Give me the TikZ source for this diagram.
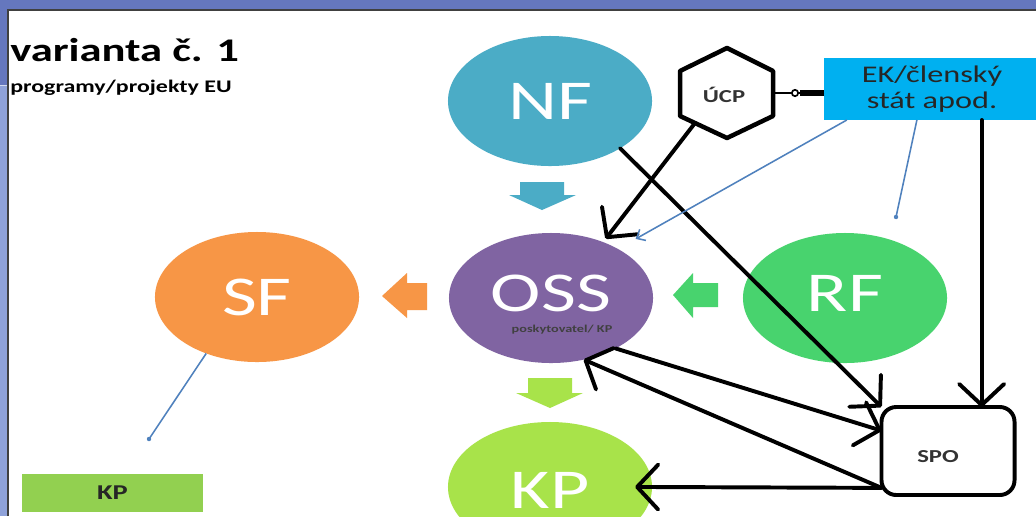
\documentclass[tikz,border=0pt]{standalone}
\usepackage{fontspec}
\setmainfont[FakeStretch=1.35]{Carlito}
\usetikzlibrary{shapes.geometric,arrows.meta}

\definecolor{slideblue}{HTML}{6577BE}
\definecolor{slidepale}{HTML}{8FA2D9}
\definecolor{nfteal}{HTML}{4BACC6}
\definecolor{osspurple}{HTML}{8064A2}
\definecolor{sforange}{HTML}{F79646}
\definecolor{rfgreen}{HTML}{48D36E}
\definecolor{kplime}{HTML}{A8E34A}
\definecolor{ekcyan}{HTML}{00B0F0}
\definecolor{kpgreen}{HTML}{92D050}
\definecolor{linkblue}{HTML}{4F81BD}

\tikzset{
	bubble/.style={ellipse, minimum width=5.1cm, minimum height=3.25cm, inner sep=0pt, outer sep=0pt, text=white, font=\fontsize{40}{44}\selectfont},
	raised/.style={text height=28pt, text depth=9pt},
	flow/.style={line width=2.8pt, line cap=round, line join=round, -{Straight Barb[length=15pt,width=32pt,round]}},
	bluelink/.style={linkblue, line width=1.1pt},
	tag/.style={font=\bfseries\fontsize{13}{15}\selectfont, text=black!80, inner sep=0pt}
}

\begin{document}
\begin{tikzpicture}[x=0.025cm, y=-0.025cm]
		\useasboundingbox (0,0) rectangle (1036,516);
		\clip (0,0) rectangle (1036,516);
		% slide frame
		\fill[slideblue] (0,0) rectangle (1036,516);
		\fill[slidepale] (0,85) rectangle (8,516);
		\draw[white!60!slidepale, line width=0.6pt] (0,85) -- (8,85);
		\fill[white] (8,10) rectangle (1036,516);
		\draw[black!75, line width=1.4pt] (8,516) -- (8,10) -- (1036,10);

		% titles
		\node[anchor=base west, inner sep=0pt, font=\bfseries\fontsize{23.5}{28}\selectfont] (title) at (10,61) {varianta č. 1};
		\node[anchor=base west, inner sep=0pt, font=\bfseries\fontsize{12.6}{15}\selectfont] (subtitle) at (10,92) {programy/projekty EU};

		% funds
		\node[bubble, fill=nfteal] (nf) at (550,101) {NF};
		\node[bubble, fill=osspurple, raised] (oss) at (551,298) {OSS};
		\node[bubble, fill=sforange] (sf) at (257,297) {SF};
		\node[bubble, fill=rfgreen, raised] (rf) at (845,298) {RF};
		\node[bubble, fill=kplime] (kp) at (550,487) {};
		\node[text=white, font=\fontsize{40}{44}\selectfont, inner sep=0pt] (kplbl) at (550,490) {KP};
		\node[font=\bfseries\fontsize{7.5}{9}\selectfont, text=black!75, inner sep=0pt] (osssub) at (562,330) {poskytovatel/ KP};

		% block arrows
		\fill[nfteal] (520,182) -- (564,182) -- (564,195) -- (576,195) -- (542,210) -- (509,195) -- (520,195) -- cycle;
		\fill[kplime] (528,378) -- (572,378) -- (572,393) -- (583,393) -- (550,408) -- (516,393) -- (528,393) -- cycle;
		\fill[sforange] (427,283) -- (427,310) -- (407,310) -- (407,318) -- (382,296) -- (407,273) -- (407,283) -- cycle;
		\fill[rfgreen] (718,283) -- (718,307) -- (693,307) -- (693,318) -- (673,295) -- (693,273) -- (693,283) -- cycle;

		% UCP hexagon
		\draw[line width=3.2pt, line join=round] (727,48) -- (773,71) -- (773,116) -- (727,138) -- (680,116) -- (680,71) -- cycle;
		\node[tag] (ucp) at (724,95) {ÚCP};
		\coordinate (ucpE) at (773,93);
		\coordinate (ucpSW) at (695,123);

		% EK, SPO, KP box
		\node[fill=ekcyan, minimum width=5.375cm, minimum height=1.55cm, inner sep=0pt, outer sep=0pt, align=center, text=black!85, font=\fontsize{17}{18}\selectfont] (ek) at (932,89) {EK/členský\\stát apod.};
		\node[draw, line width=2.8pt, rounded corners=10.5pt, minimum width=3.325cm, minimum height=2.2cm, outer sep=0pt] (spo) at (948,451) {};
		\node[tag] (spolbl) at (938,457) {SPO};
		\node[fill=kpgreen, minimum width=4.525cm, minimum height=0.95cm, inner sep=0pt, font=\bfseries\fontsize{15}{18}\selectfont, text=black!85] (kpbox) at (112.5,493) {KP};

		% connectors
		\coordinate (ekknob) at (800,93);
		\draw[line width=2pt] (ucpE -| ek.west) -- (ucpE);
		\draw[line width=4.5pt] (ucpE -| ek.west) -- (ekknob);
		\node[circle, draw, line width=1.2pt, fill=white, inner sep=1.6pt] (knob) at (795,93) {};
		\draw[flow, shorten >=3pt] (ucpSW) -- (oss.47);
		\draw[flow] (nf.-34) -- (spo.north west);
		\draw[flow] (oss.-38) -- (spo.163);
		\draw[flow] (spo.209) -- (oss.-62);
		\draw[flow, shorten >=-12pt] (spo.209) -- (kp.east);
		\draw[flow] (ek.-32) -- (ek.-32 |- spo.north);

		% thin blue links
		\coordinate (rfdot) at (896,217);
		\coordinate (sfdot) at (149,439);
		\draw[bluelink, -{Straight Barb[length=5pt,width=9pt]}] (ek.200) -- ([shift={(16,-11)}]oss.35);
		\draw[bluelink] (ek.244) -- (rfdot);
		\fill[linkblue] (rfdot) circle (2.2);
		\draw[bluelink] (sf.228) -- (sfdot);
		\fill[linkblue] (sfdot) circle (2.2);
	\end{tikzpicture}
\end{document}
